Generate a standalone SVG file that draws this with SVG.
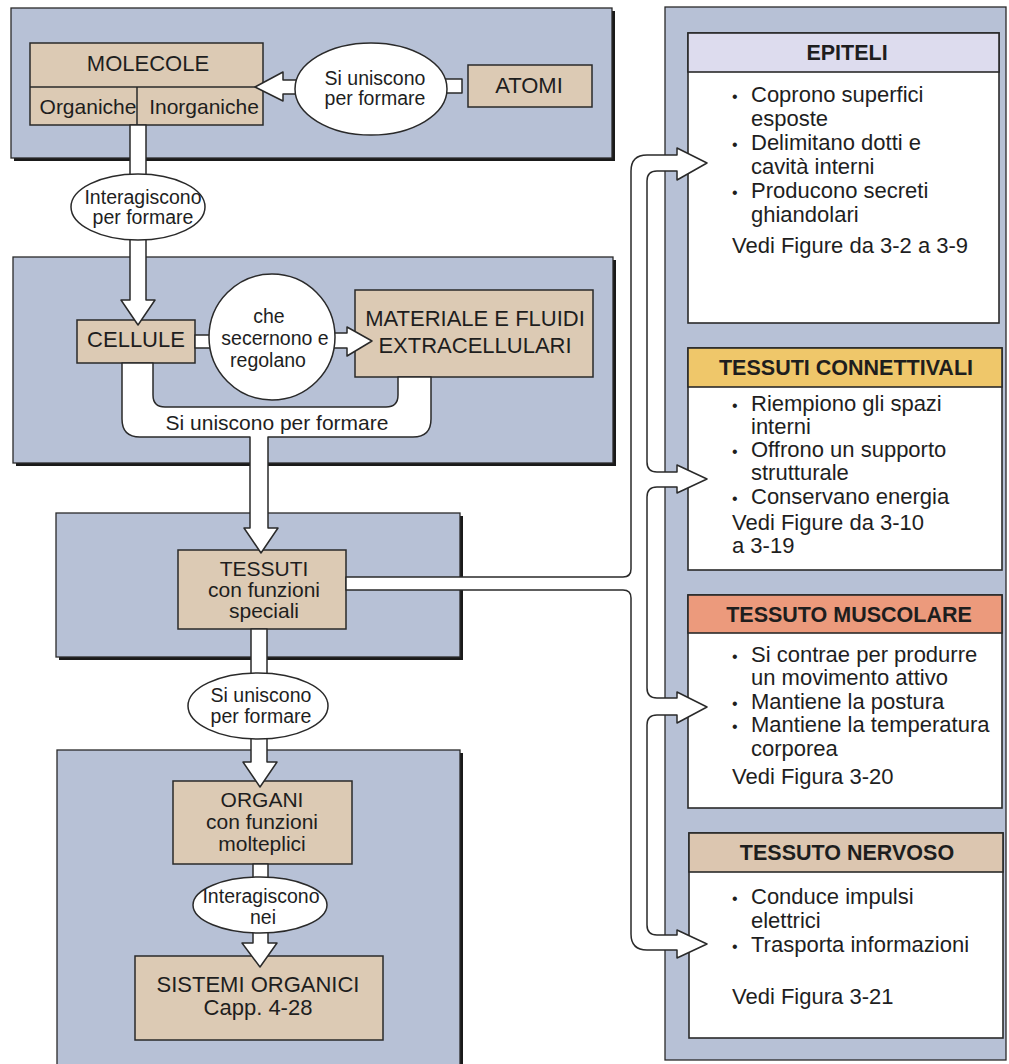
<svg xmlns="http://www.w3.org/2000/svg" width="1009" height="1064" viewBox="0 0 1009 1064">
<style>
  text { font-family: "Liberation Sans", Arial, sans-serif; fill: #1e1e1e; }
  .panel { fill: #b7c1d6; stroke: #2a2a2a; stroke-width: 1.3; }
  .shadow { fill: #1a1a1a; }
  .box { fill: #dccab4; stroke: #2a2a2a; stroke-width: 1.5; }
  .card { fill: #ffffff; stroke: #2a2a2a; stroke-width: 1.6; }
  .oval { fill: #ffffff; stroke: #2a2a2a; stroke-width: 1.5; }
  .conn { fill: #ffffff; stroke: #2a2a2a; stroke-width: 1.5; stroke-linejoin: round; }
  .t22 { font-size: 22px; text-anchor: middle; }
  .t21 { font-size: 21px; text-anchor: middle; }
  .t20 { font-size: 19.5px; text-anchor: middle; }
  .hd { font-size: 21.5px; font-weight: bold; text-anchor: middle; }
  .body { font-size: 22px; }
  .bul { font-size: 16px; }
</style>

<!-- background panels -->
<g id="panels">
  <rect class="shadow" x="14" y="11" width="601" height="150"/>
  <rect class="panel" x="11" y="8" width="601" height="150"/>
  <rect class="shadow" x="16" y="260" width="600" height="206"/>
  <rect class="panel" x="13" y="257" width="600" height="206"/>
  <rect class="shadow" x="59" y="516" width="404" height="144"/>
  <rect class="panel" x="56" y="513" width="404" height="144"/>
  <rect class="shadow" x="60" y="753" width="403" height="330"/>
  <rect class="panel" x="57" y="750" width="403" height="330"/>
  <rect class="panel" x="665" y="7" width="341" height="1053"/>
</g>

<!-- boxes -->
<g id="molecole">
  <rect class="box" x="30" y="43" width="233" height="82"/>
  <line x1="30" y1="87" x2="263" y2="87" stroke="#2a2a2a" stroke-width="1.5"/>
  <line x1="137" y1="87" x2="137" y2="125" stroke="#2a2a2a" stroke-width="1.5"/>
  <text class="t22" x="148" y="71">MOLECOLE</text>
  <text class="t21" x="88" y="114">Organiche</text>
  <text class="t21" x="204" y="114">Inorganiche</text>
</g>
<g id="atomi">
  <rect class="box" x="468" y="65" width="124" height="42"/>
  <text class="t22" x="529" y="93">ATOMI</text>
</g>
<g id="cellule">
  <rect class="box" x="77" y="320" width="118" height="43"/>
  <text class="t22" x="136" y="347">CELLULE</text>
</g>
<g id="materiale">
  <rect class="box" x="355" y="290" width="238" height="87"/>
  <text class="t22" x="475" y="326">MATERIALE E FLUIDI</text>
  <text class="t22" x="475" y="353">EXTRACELLULARI</text>
</g>
<g id="tessuti">
  <rect class="box" x="178" y="550" width="168" height="79"/>
  <text class="t21" x="264" y="576">TESSUTI</text>
  <text class="t21" x="264" y="597">con funzioni</text>
  <text class="t21" x="264" y="618">speciali</text>
</g>
<g id="organi">
  <rect class="box" x="173" y="781" width="179" height="83"/>
  <text class="t21" x="262" y="807">ORGANI</text>
  <text class="t21" x="262" y="829">con funzioni</text>
  <text class="t21" x="262" y="851">molteplici</text>
</g>
<g id="sistemi">
  <rect class="box" x="135" y="956" width="248" height="84"/>
  <text class="t22" x="258" y="992">SISTEMI ORGANICI</text>
  <text class="t22" x="258" y="1015">Capp. 4-28</text>
</g>

<!-- tissue cards -->
<g id="epiteli">
  <rect class="card" x="688" y="33" width="311" height="290"/>
  <rect x="688" y="33" width="311" height="39" fill="#dddcee" stroke="#2a2a2a" stroke-width="1.6"/>
  <text class="hd" x="847" y="60">EPITELI</text>
  <text class="body" y="102"><tspan class="bul" x="732">•</tspan><tspan x="751">Coprono superfici</tspan></text>
  <text class="body" x="751" y="126">esposte</text>
  <text class="body" y="150"><tspan class="bul" x="732">•</tspan><tspan x="751">Delimitano dotti e</tspan></text>
  <text class="body" x="751" y="174">cavità interni</text>
  <text class="body" y="198"><tspan class="bul" x="732">•</tspan><tspan x="751">Producono secreti</tspan></text>
  <text class="body" x="751" y="222">ghiandolari</text>
  <text class="body" x="732" y="253">Vedi Figure da 3-2 a 3-9</text>
</g>
<g id="connettivali">
  <rect class="card" x="688" y="348" width="314" height="222"/>
  <rect x="688" y="348" width="314" height="39" fill="#efc76a" stroke="#2a2a2a" stroke-width="1.6"/>
  <text class="hd" x="846" y="375">TESSUTI CONNETTIVALI</text>
  <text class="body" y="411"><tspan class="bul" x="732">•</tspan><tspan x="751">Riempiono gli spazi</tspan></text>
  <text class="body" x="751" y="434">interni</text>
  <text class="body" y="457"><tspan class="bul" x="732">•</tspan><tspan x="751">Offrono un supporto</tspan></text>
  <text class="body" x="751" y="480">strutturale</text>
  <text class="body" y="504"><tspan class="bul" x="732">•</tspan><tspan x="751">Conservano energia</tspan></text>
  <text class="body" x="732" y="530">Vedi Figure da 3-10</text>
  <text class="body" x="732" y="553">a 3-19</text>
</g>
<g id="muscolare">
  <rect class="card" x="688" y="595" width="314" height="213"/>
  <rect x="688" y="595" width="314" height="38" fill="#ec9a7c" stroke="#2a2a2a" stroke-width="1.6"/>
  <text class="hd" x="849" y="622">TESSUTO MUSCOLARE</text>
  <text class="body" y="662"><tspan class="bul" x="732">•</tspan><tspan x="751">Si contrae per produrre</tspan></text>
  <text class="body" x="751" y="685">un movimento attivo</text>
  <text class="body" y="709"><tspan class="bul" x="732">•</tspan><tspan x="751">Mantiene la postura</tspan></text>
  <text class="body" y="732"><tspan class="bul" x="732">•</tspan><tspan x="751">Mantiene la temperatura</tspan></text>
  <text class="body" x="751" y="756">corporea</text>
  <text class="body" x="732" y="784">Vedi Figura 3-20</text>
</g>
<g id="nervoso">
  <rect class="card" x="689" y="833" width="314" height="205"/>
  <rect x="689" y="833" width="314" height="39" fill="#dcc6b0" stroke="#2a2a2a" stroke-width="1.6"/>
  <text class="hd" x="847" y="860">TESSUTO NERVOSO</text>
  <text class="body" y="904"><tspan class="bul" x="732">•</tspan><tspan x="751">Conduce impulsi</tspan></text>
  <text class="body" x="751" y="928">elettrici</text>
  <text class="body" y="952"><tspan class="bul" x="732">•</tspan><tspan x="751">Trasporta informazioni</tspan></text>
  <text class="body" x="732" y="1004">Vedi Figura 3-21</text>
</g>

<!-- connectors -->
<g id="connectors">
  <rect class="conn" x="440" y="79" width="22" height="14"/>
  <path class="conn" d="M305,80 L283,80 L283,72 L255,87 L283,101 L283,94 L305,94 Z"/>
  <path class="conn" d="M130,125 L146,125 L146,300 L155,300 L138,325 L121,300 L130,300 Z"/>
  <rect class="conn" x="195" y="335" width="20" height="13"/>
  <path class="conn" d="M328,333 L347,333 L347,327 L372,341 L347,356 L347,348 L328,348 Z"/>
  <path class="conn" d="M122,363 L122,419 Q122,437 140,437 L250,437 L250,528 L244,528 L261,553 L278,528 L268,528 L268,437 L413,437 Q431,437 431,419 L431,377 L398,377 L398,395 Q398,407 386,407 L165,407 Q153,407 153,395 L153,363 Z"/>
  <text class="t21" x="277" y="430">Si uniscono per formare</text>
  <path class="conn" d="M251,629 L267,629 L267,762 L277,762 L260,787 L243,762 L251,762 Z"/>
  <path class="conn" d="M253,864 L268,864 L268,943 L277,943 L260,967 L242,943 L253,943 Z"/>
  <path class="conn" d="M346,577 L623,577 Q631,577 631,569 L631,171 Q631,155 647,155 L677,155 L677,148 L707,163 L677,180 L677,171 L657,171 Q647,171 647,181 L647,462 Q647,472 657,472 L677,472 L677,465 L707,479 L677,493 L677,487 L657,487 Q647,487 647,497 L647,688 Q647,698 657,698 L677,698 L677,692 L707,707 L677,723 L677,715 L657,715 Q647,715 647,725 L647,925 Q647,935 657,935 L677,935 L677,930 L707,944 L677,958 L677,950 L647,950 Q631,950 631,934 L631,598 Q631,590 623,590 L346,590 Z"/>
</g>

<!-- label nodes -->
<g id="unione-atomi">
  <ellipse class="oval" cx="371" cy="89" rx="76" ry="46"/>
  <text class="t20" x="375" y="85">Si uniscono</text>
  <text class="t20" x="375" y="105">per formare</text>
</g>
<g id="interazione-molecole">
  <ellipse class="oval" cx="138" cy="207" rx="67" ry="33"/>
  <text class="t20" x="143" y="204">Interagiscono</text>
  <text class="t20" x="143" y="224">per formare</text>
</g>
<g id="secrezione">
  <circle class="oval" cx="272" cy="337" r="63"/>
  <text class="t20" x="269" y="323">che</text>
  <text class="t20" x="275" y="345">secernono e</text>
  <text class="t20" x="268" y="367">regolano</text>
</g>
<g id="unione-tessuti">
  <ellipse class="oval" cx="258" cy="706" rx="70" ry="33"/>
  <text class="t20" x="261" y="702">Si uniscono</text>
  <text class="t20" x="261" y="723">per formare</text>
</g>
<g id="interazione-organi">
  <ellipse class="oval" cx="260" cy="905" rx="67" ry="28"/>
  <text class="t20" x="261" y="903">Interagiscono</text>
  <text class="t20" x="263" y="924">nei</text>
</g>
</svg>
